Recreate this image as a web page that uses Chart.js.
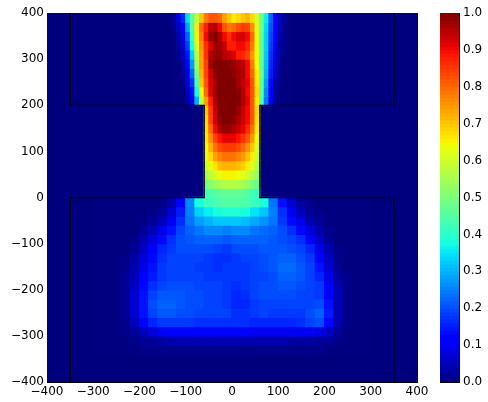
<!DOCTYPE html>
<html>
<head>
<meta charset="utf-8">
<script src="https://cdn.jsdelivr.net/npm/chart.js@4"></script>
<style>
  body { margin: 0; background: #fff; }
  #main { position: absolute; left: 0; top: 0; }
  #cbar { position: absolute; left: 430px; top: 0; }
</style>
</head>
<body>
<canvas id="main" width="430" height="402"></canvas>
<canvas id="cbar" width="58" height="402"></canvas>
<script>
// values are in hundredths of the colour scale
const axisTicks = [-400, -300, -200, -100, 0, 100, 200, 300, 400];
const cbarTicks = [0, 0.1, 0.2, 0.3, 0.4, 0.5, 0.6, 0.7, 0.8, 0.9, 1];

const plumeX = [-125, -115, -105, -95, -85, -75, -65, -55, -45, -35, -25, -15, -5, 5, 15, 25, 35, 45, 55, 65, 75, 85, 95, 105, 115, 125];
const plumeY = [390, 370, 350, 330, 310, 290, 270, 250, 230, 210];
const plumeRows = [
  [2, 8, 16, 34, 47, 58, 70, 78, 82, 82, 80, 74, 70, 66, 68, 70, 72, 68, 60, 49, 36, 22, 11, 5, 2, 0],
  [1, 5, 11, 28, 45, 66, 80, 88, 95, 96, 90, 82, 78, 80, 83, 85, 84, 76, 62, 48, 34, 20, 10, 5, 1, 0],
  [0, 3, 9, 22, 42, 65, 78, 90, 98, 100, 96, 90, 86, 90, 92, 93, 90, 80, 63, 47, 33, 19, 10, 4, 1, 0],
  [0, 2, 7, 18, 38, 62, 76, 86, 92, 98, 97, 94, 88, 88, 90, 90, 87, 78, 63, 47, 33, 18, 9, 3, 1, 0],
  [0, 1, 5, 14, 33, 58, 74, 86, 96, 98, 98, 95, 94, 92, 88, 87, 84, 75, 63, 47, 32, 17, 8, 3, 0, 0],
  [0, 0, 3, 11, 28, 55, 74, 84, 97, 100, 100, 100, 99, 98, 96, 95, 90, 78, 64, 47, 31, 16, 7, 2, 0, 0],
  [0, 0, 2, 9, 23, 50, 72, 84, 93, 99, 100, 100, 100, 99, 97, 96, 90, 80, 66, 48, 30, 15, 6, 2, 0, 0],
  [0, 0, 1, 7, 18, 45, 70, 82, 92, 97, 100, 100, 100, 100, 97, 94, 91, 82, 66, 46, 28, 13, 4, 1, 0, 0],
  [0, 0, 0, 5, 13, 38, 64, 80, 92, 98, 100, 100, 100, 100, 99, 96, 90, 82, 68, 46, 26, 11, 3, 0, 0, 0],
  [0, 0, 0, 3, 10, 30, 58, 74, 88, 96, 100, 100, 100, 100, 100, 96, 91, 82, 66, 44, 24, 9, 2, 0, 0, 0]
];

const throatX = [-55, -45, -35, -25, -15, -5, 5, 15, 25, 35, 45, 55];
const throatY = [190, 170, 150, 130, 110, 90, 70, 50, 30, 10];
const throatRows = [
  [70, 85, 94, 100, 100, 100, 100, 98, 94, 90, 82, 68],
  [68, 84, 93, 99, 100, 100, 99, 96, 93, 90, 82, 67],
  [67, 80, 90, 96, 98, 98, 96, 94, 91, 87, 79, 66],
  [66, 76, 84, 89, 91, 91, 91, 89, 86, 82, 75, 64],
  [64, 72, 79, 83, 85, 85, 85, 83, 80, 76, 70, 62],
  [62, 68, 74, 77, 79, 79, 79, 77, 75, 71, 66, 60],
  [59, 63, 67, 71, 72, 72, 72, 71, 69, 66, 62, 57],
  [55, 58, 61, 63, 65, 65, 65, 64, 62, 60, 57, 53],
  [49, 51, 54, 55, 56, 57, 57, 56, 55, 53, 50, 47],
  [42, 44, 45, 46, 47, 47, 47, 47, 46, 45, 43, 41]
];

const poolX = [-290, -270, -250, -230, -210, -190, -170, -150, -130, -110, -90, -70, -50, -30, -10, 10, 30, 50, 70, 90, 110, 130, 150, 170, 190, 210, 230, 250, 270, 290];
const poolY = [-10, -30, -50, -70, -90, -110, -130, -150, -170, -190, -210, -230, -250, -270, -290, -310, -330];
const poolRows = [
  [0, 0, 0, 0, 0, 0, 0, 1, 4, 12, 26, 38, 42, 44, 45, 45, 44, 42, 38, 24, 14, 7, 3, 1, 0, 0, 0, 0, 0, 0],
  [0, 0, 0, 0, 0, 0, 1, 2, 7, 15, 25, 33, 36, 38, 39, 39, 38, 35, 32, 25, 17, 10, 5, 2, 1, 0, 0, 0, 0, 0],
  [0, 0, 0, 0, 0, 1, 2, 5, 10, 17, 24, 28, 30, 32, 32, 32, 31, 29, 27, 24, 18, 13, 9, 4, 2, 0, 0, 0, 0, 0],
  [0, 0, 0, 0, 0, 2, 5, 9, 14, 19, 22, 24, 26, 26, 25, 26, 26, 24, 23, 22, 20, 17, 13, 8, 4, 1, 0, 0, 0, 0],
  [0, 0, 0, 0, 1, 4, 8, 13, 17, 20, 21, 22, 22, 22, 21, 22, 22, 22, 22, 21, 20, 19, 17, 12, 6, 2, 0, 0, 0, 0],
  [0, 0, 0, 0, 2, 6, 11, 16, 18, 20, 20, 20, 20, 19, 18, 20, 20, 20, 21, 21, 21, 20, 19, 16, 9, 4, 1, 0, 0, 0],
  [0, 0, 0, 1, 3, 8, 13, 17, 19, 19, 19, 19, 18, 17, 17, 18, 19, 19, 20, 21, 22, 22, 20, 18, 12, 6, 1, 0, 0, 0],
  [0, 0, 0, 1, 4, 9, 14, 18, 19, 19, 19, 18, 18, 17, 18, 18, 18, 19, 20, 21, 23, 23, 21, 19, 14, 7, 2, 0, 0, 0],
  [0, 0, 0, 2, 5, 11, 15, 18, 19, 19, 19, 19, 18, 18, 18, 18, 18, 19, 19, 20, 22, 22, 21, 19, 16, 9, 3, 1, 0, 0],
  [0, 0, 0, 2, 6, 13, 17, 19, 20, 20, 20, 19, 19, 19, 18, 17, 18, 19, 20, 20, 21, 21, 20, 19, 18, 11, 4, 1, 0, 0],
  [0, 0, 0, 2, 7, 14, 19, 21, 21, 21, 20, 20, 19, 19, 18, 16, 17, 19, 20, 20, 20, 20, 19, 19, 18, 12, 5, 1, 0, 0],
  [0, 0, 0, 2, 7, 14, 20, 22, 22, 21, 20, 20, 19, 19, 18, 16, 16, 18, 19, 19, 19, 19, 19, 19, 20, 14, 5, 1, 0, 0],
  [0, 0, 0, 2, 7, 14, 19, 21, 21, 20, 20, 19, 19, 19, 19, 17, 17, 18, 19, 18, 18, 18, 18, 20, 22, 15, 5, 1, 0, 0],
  [0, 0, 0, 1, 5, 11, 16, 18, 18, 18, 18, 17, 17, 17, 17, 17, 17, 16, 16, 16, 16, 16, 17, 19, 20, 13, 4, 1, 0, 0],
  [0, 0, 0, 1, 2, 5, 8, 10, 11, 11, 11, 11, 11, 11, 11, 11, 11, 10, 10, 10, 10, 10, 10, 10, 9, 6, 2, 0, 0, 0],
  [0, 0, 0, 0, 1, 2, 2, 3, 4, 4, 4, 4, 4, 4, 4, 4, 4, 4, 4, 4, 4, 3, 3, 3, 2, 2, 1, 0, 0, 0],
  [0, 0, 0, 0, 0, 1, 1, 1, 1, 1, 1, 1, 1, 1, 1, 1, 1, 1, 1, 1, 1, 1, 1, 1, 1, 0, 0, 0, 0, 0]
];

// outline of the vessel walls
const wallLeft = [[-350, 400], [-350, 200], [-60, 200], [-60, 0], [-350, 0], [-350, -400]];
const wallRight = [[350, 400], [350, 200], [60, 200], [60, 0], [350, 0], [350, -400]];

// colour bar steps, 0.00 to 0.99
const cbarLevels = [
  0, 1, 2, 3, 4, 5, 6, 7, 8, 9, 10, 11, 12, 13, 14, 15, 16, 17, 18, 19,
  20, 21, 22, 23, 24, 25, 26, 27, 28, 29, 30, 31, 32, 33, 34, 35, 36, 37, 38, 39,
  40, 41, 42, 43, 44, 45, 46, 47, 48, 49, 50, 51, 52, 53, 54, 55, 56, 57, 58, 59,
  60, 61, 62, 63, 64, 65, 66, 67, 68, 69, 70, 71, 72, 73, 74, 75, 76, 77, 78, 79,
  80, 81, 82, 83, 84, 85, 86, 87, 88, 89, 90, 91, 92, 93, 94, 95, 96, 97, 98, 99
];

const FONT = { family: 'DejaVu Sans', size: 12 };
const NAVY = '#00007f';

function ramp(stops, v) {
  for (let i = 1; i < stops.length; i++) {
    if (v <= stops[i][0]) {
      const a = stops[i - 1], b = stops[i];
      return a[1] + (b[1] - a[1]) * (v - a[0]) / (b[0] - a[0]);
    }
  }
  return stops[stops.length - 1][1];
}

function jet(v) {
  const r = ramp([[0, 0], [0.35, 0], [0.66, 1], [0.89, 1], [1, 0.5]], v);
  const g = ramp([[0, 0], [0.125, 0], [0.375, 1], [0.64, 1], [0.91, 0], [1, 0]], v);
  const b = ramp([[0, 0.5], [0.11, 1], [0.34, 1], [0.65, 0], [1, 0]], v);
  return `rgb(${Math.round(r * 255)},${Math.round(g * 255)},${Math.round(b * 255)})`;
}

function cellRows(xs, ys, rows, thickness) {
  return rows.map((row, i) => ({
    label: 'y ' + ys[i],
    data: xs.map(x => ({ x: x, y: [ys[i] - 10.6, ys[i] + 10.6] })),
    backgroundColor: row.map(v => jet(v / 100)),
    barThickness: thickness,
    grouped: false,
    order: 2
  }));
}

function wallLine(points) {
  return {
    type: 'line',
    data: points.map(p => ({ x: p[0], y: p[1] })),
    borderColor: '#000',
    borderWidth: 1.25,
    pointRadius: 0,
    tension: 0,
    fill: false,
    order: 1
  };
}

function fixedTicks(values) {
  return scale => { scale.ticks = values.map(v => ({ value: v })); };
}

// keep the plot box where it is, labels may hang over it
function fitBox(size) {
  return s => {
    if (s.isHorizontal()) s.height = size; else s.width = size;
    s.paddingLeft = s.paddingRight = s.paddingTop = s.paddingBottom = 0;
  };
}

const minus = v => String(v).replace('-', '\u2212');

function axis(position, showLabels, size) {
  return {
    type: 'linear',
    position: position,
    min: -400,
    max: 400,
    offset: false,
    afterBuildTicks: fixedTicks(axisTicks),
    afterFit: fitBox(size),
    border: { color: '#000', width: 1 },
    grid: { drawOnChartArea: false, offset: false, tickLength: -4, tickColor: '#000', tickWidth: 1 },
    ticks: {
      display: showLabels,
      color: '#000',
      font: FONT,
      padding: 7,
      maxRotation: 0,
      autoSkip: false,
      callback: minus
    }
  };
}

function plainEdge(position) {
  return {
    type: 'linear',
    position: position,
    min: 0,
    max: 1,
    offset: false,
    afterFit: fitBox(0),
    border: { color: '#000' },
    grid: { display: false, offset: false },
    ticks: { display: false }
  };
}

const areaBackground = {
  id: 'areaBackground',
  beforeDatasetsDraw(chart) {
    const a = chart.chartArea;
    chart.ctx.save();
    chart.ctx.fillStyle = NAVY;
    chart.ctx.fillRect(a.left, a.top, a.right - a.left, a.bottom - a.top);
    chart.ctx.restore();
  }
};

new Chart(document.getElementById('main'), {
  type: 'bar',
  data: {
    datasets: [
      ...cellRows(plumeX, plumeY, plumeRows, 5.2),
      ...cellRows(throatX, throatY, throatRows, 5.2),
      ...cellRows(poolX, poolY, poolRows, 9.8),
      wallLine(wallLeft),
      wallLine(wallRight)
    ]
  },
  options: {
    responsive: false,
    animation: false,
    layout: { padding: { left: 0, right: 13, top: 13, bottom: 0 } },
    plugins: { legend: { display: false }, tooltip: { enabled: false } },
    scales: {
      x: axis('bottom', true, 20),
      y: axis('left', true, 47),
      x2: axis('top', false, 0),
      y2: axis('right', false, 0)
    }
  },
  plugins: [areaBackground]
});

new Chart(document.getElementById('cbar'), {
  type: 'bar',
  data: {
    datasets: [{
      data: cbarLevels.map(l => ({ x: 0.5, y: [l / 100, (l + 1.3) / 100] })),
      backgroundColor: cbarLevels.map(l => jet((l + 0.5) / 100)),
      barThickness: 19,
      grouped: false
    }]
  },
  options: {
    responsive: false,
    animation: false,
    layout: { padding: { left: 10, right: 0, top: 13, bottom: 20 } },
    plugins: { legend: { display: false }, tooltip: { enabled: false } },
    scales: {
      x: plainEdge('bottom'),
      x2: plainEdge('top'),
      y2: plainEdge('left'),
      y: {
        type: 'linear',
        position: 'right',
        min: 0,
        max: 1,
        afterBuildTicks: fixedTicks(cbarTicks),
        afterFit: fitBox(29),
        border: { color: '#000' },
        grid: { drawOnChartArea: false, tickLength: -4, tickColor: '#000' },
        ticks: { color: '#000', font: FONT, padding: 8, callback: v => v.toFixed(1) }
      }
    }
  }
});
</script>
</body>
</html>
